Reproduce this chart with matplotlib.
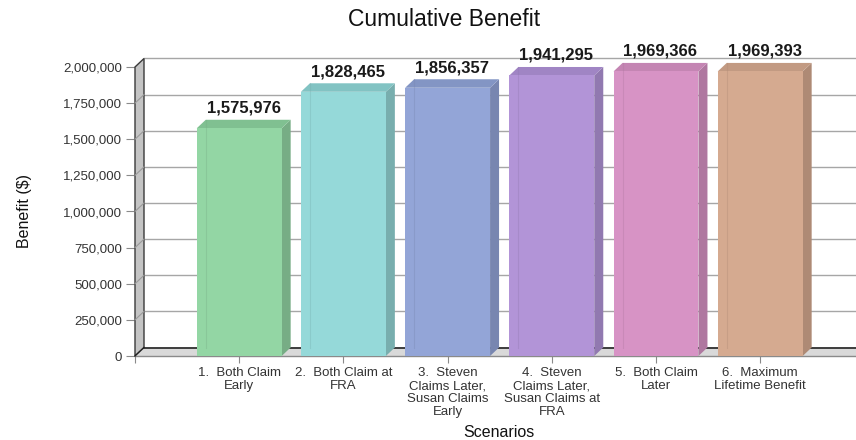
import matplotlib.pyplot as plt
from matplotlib.patches import Polygon

plt.rcParams['font.family'] = ['Liberation Sans', 'DejaVu Sans']

scenarios = [
    "1.  Both Claim\nEarly",
    "2.  Both Claim at\nFRA",
    "3.  Steven\nClaims Later,\nSusan Claims\nEarly",
    "4.  Steven\nClaims Later,\nSusan Claims at\nFRA",
    "5.  Both Claim\nLater",
    "6.  Maximum\nLifetime Benefit",
]
benefits = [1575976, 1828465, 1856357, 1941295, 1969366, 1969393]
front_colors = ["#93d6a4", "#95d9d9", "#93a5d7", "#b294d7", "#d793c5", "#d5aa90"]
side_colors = ["#77ad85", "#78aeae", "#7886b0", "#9179b0", "#af78a0", "#ae8a75"]
top_colors = ["#80c091", "#82c3c3", "#8395c4", "#a085c4", "#c485b3", "#c29a82"]
y_ticks = list(range(0, 2000001, 250000))

W, H = 856, 440
fig = plt.figure(figsize=(W / 100, H / 100), dpi=100)
x0, x1, ybot, ytop = 135, 856, 356, 67
ax = fig.add_axes([x0 / W, (H - ybot) / H, (x1 - x0) / W, (ybot - ytop) / H])
ax.set_facecolor("none")
for s in ax.spines.values():
    s.set_visible(False)

px_per_x = 104.2
xmax = (x1 - x0) / px_per_x
ymax = 2000000
ax.set_xlim(0, xmax)
ax.set_ylim(0, ymax)

# depth offset of the pseudo-3D box, in data units
ddx = 9 / px_per_x
ddy = 8.5 * ymax / (ybot - ytop)
bw = 0.815

# back wall grid lines
for v in y_ticks:
    ax.plot([ddx, xmax + 1], [v + ddy, v + ddy], color="#a6a6a6", lw=1.0,
            zorder=1, clip_on=False)

# left wall, with the grid carried across it as diagonals
wall = Polygon([(0, 0), (ddx, ddy), (ddx, ymax + ddy), (0, ymax)], closed=True,
               facecolor="#c4c4c4", edgecolor="#3a3a3a", lw=1.0, zorder=2,
               clip_on=False)
ax.add_patch(wall)
for v in y_ticks[1:-1]:
    ax.plot([0, ddx], [v, v + ddy], color="#9a9a9a", lw=0.8, zorder=2.5,
            clip_on=False)

# floor
floor = Polygon([(0, 0), (xmax + 1, 0), (xmax + 1 + ddx, ddy), (ddx, ddy)],
                closed=True, facecolor="#d9d9d9", edgecolor="none", zorder=2,
                clip_on=False)
ax.add_patch(floor)
ax.plot([ddx, xmax + 1], [ddy, ddy], color="#222222", lw=1.2, zorder=2.6,
        clip_on=False)
ax.plot([0, xmax + 1], [0, 0], color="#8a8a8a", lw=1.0, zorder=2.6,
        clip_on=False)
ax.plot([0, ddx], [0, ddy], color="#222222", lw=1.0, zorder=2.6, clip_on=False)

# bars: side, top and front faces
for i, (v, fc, sc, tc) in enumerate(zip(benefits, front_colors, side_colors, top_colors)):
    c = i + 1
    l, r = c - bw / 2, c + bw / 2
    side = Polygon([(r, 0), (r + ddx, ddy), (r + ddx, v + ddy), (r, v)],
                   closed=True, facecolor=sc, edgecolor="none", zorder=3,
                   clip_on=False)
    top = Polygon([(l, v), (l + ddx, v + ddy), (r + ddx, v + ddy), (r, v)],
                  closed=True, facecolor=tc, edgecolor="none", zorder=3,
                  clip_on=False)
    front = Polygon([(l, 0), (r, 0), (r, v), (l, v)], closed=True,
                    facecolor=fc, edgecolor="none", zorder=3, clip_on=False)
    ax.add_patch(side)
    ax.add_patch(top)
    ax.add_patch(front)
    ax.plot([l + ddx, l + ddx], [ddy, v + ddy], color=sc, lw=0.8, alpha=0.35,
            zorder=3.5, clip_on=False)
    ax.annotate(f"{v:,}", xy=(c + ddx / 2, v + ddy), xytext=(0, 3),
                textcoords="offset points", ha="center", va="bottom",
                fontsize=12, fontweight="bold", color="#1a1a1a", zorder=5,
                annotation_clip=False)

ax.set_yticks(y_ticks)
ax.set_yticklabels([f"{v:,}" for v in y_ticks])
ax.set_xticks(range(0, 7))
ax.set_xticklabels([""] + scenarios, linespacing=1.1)
ax.tick_params(axis="y", length=6.5, width=0.8, color="#8a8a8a", pad=3,
               labelsize=9.5, labelcolor="#333333")
ax.tick_params(axis="x", length=5, width=0.8, color="#8a8a8a", pad=3,
               labelsize=9.5, labelcolor="#333333")

fig.text(444 / W, 1 - 19 / H, "Cumulative Benefit", ha="center", va="center",
         fontsize=16.5, color="#111111")
fig.text(25 / W, 1 - 211 / H, "Benefit ($)", ha="center", va="center",
         rotation=90, fontsize=11.5, color="#111111")
fig.text(499 / W, 1 - 432 / H, "Scenarios", ha="center", va="center",
         fontsize=11.5, color="#111111")

fig.savefig("out.png", dpi=100)
